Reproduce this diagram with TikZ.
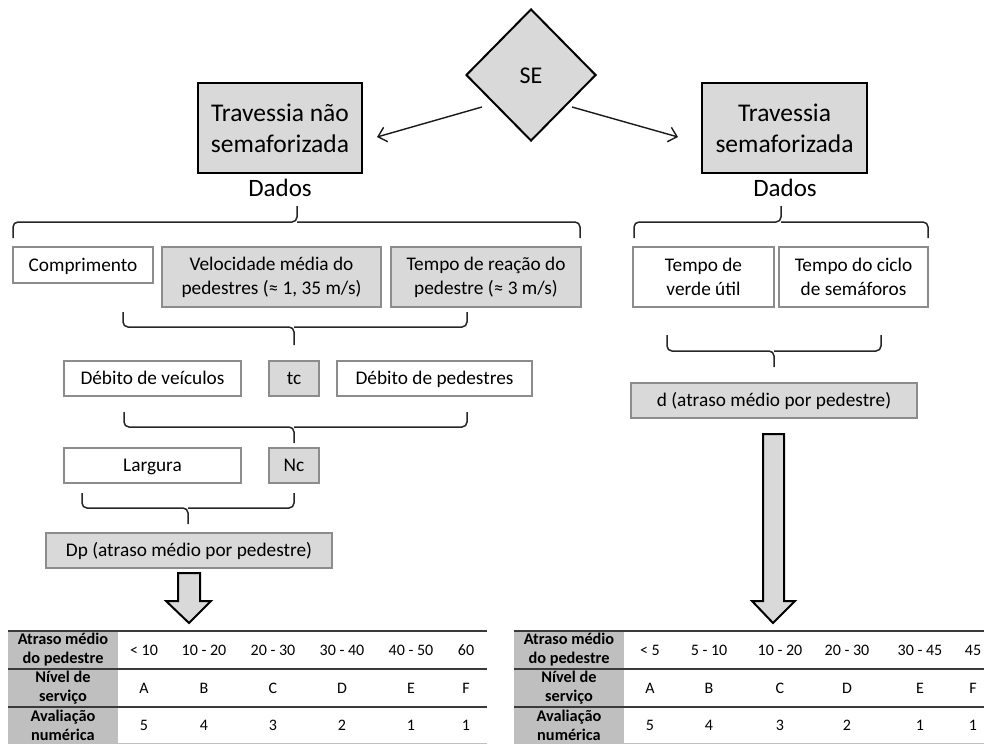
\documentclass[tikz,border=0pt]{standalone}
\usepackage{fontspec}
\setmainfont{Carlito}
\usetikzlibrary{shapes.geometric,arrows.meta}
\definecolor{boxgray}{HTML}{D9D9D9}
\definecolor{hdrgray}{HTML}{BFBFBF}
\definecolor{edgegray}{HTML}{8C8C8C}
\definecolor{rulegray}{HTML}{3A3A3A}

\begin{document}
\begin{tikzpicture}[x=1pt,y=-1pt,
  titlebox/.style={draw=black, line width=2.4pt, fill=boxgray, inner sep=0pt,
    align=center, font=\fontsize{25.5}{31}\selectfont},
  lbl/.style={inner sep=0pt, font=\fontsize{25}{30}\selectfont},
  databox/.style={draw=edgegray, line width=1.1pt, fill=white, inner sep=0pt,
    align=center, font=\fontsize{19.3}{24}\selectfont},
  grayfill/.style={databox, fill=boxgray},
  oneline/.style={text height=15pt, text depth=3pt},
  bracket/.style={draw=black!85, line width=1.5pt, rounded corners=5pt},
  link/.style={draw=black!90, line width=1.4pt, -{Straight Barb[length=8pt,width=15pt]}},
  bigarrow/.style={draw=black, line width=2pt, fill=boxgray, line join=miter},
  hdr/.style={inner sep=0pt, align=center, font=\bfseries\fontsize{16.3}{19}\selectfont},
  cell/.style={inner sep=0pt, text height=12pt, text depth=2pt,
    font=\fontsize{16}{19}\selectfont},
  tabrule/.style={draw=rulegray, line width=1.5pt},
]
\useasboundingbox (0,0) rectangle (984,744);

% decision and the two branches
\node (se) [diamond, draw=black, line width=2pt, fill=boxgray, inner sep=0pt,
  minimum width=130pt, minimum height=132pt, font=\fontsize{24}{29}\selectfont,
  text height=19pt, text depth=3pt]
  at (531,75) {SE};
\node (nsem) [titlebox, minimum width=164pt, minimum height=90pt] at (280,128)
  {Travessia não\\semaforizada};
\node (sem) [titlebox, minimum width=165pt, minimum height=90pt] at (784.5,128)
  {Travessia\\semaforizada};
\coordinate (se-l) at (482,107);
\coordinate (se-r) at (572,107);
\coordinate (nsem-in) at (377,137);
\coordinate (sem-in) at (678,137);
\draw[link] (se-l) -- (nsem-in);
\draw[link] (se-r) -- (sem-in);

\node (dadosL) [lbl] at (280,188) {Dados};
\node (dadosR) [lbl] at (785,188) {Dados};

% braces under "Dados"
\draw[bracket] (13,238) -- (13,222) -- (297,222) -- (297,206);
\draw[bracket] (580,238) -- (580,222) -- (297,222);
\draw[bracket] (634,238) -- (634,222) -- (781,222) -- (781,206);
\draw[bracket] (928,238) -- (928,222) -- (781,222);

% unsignalised crossing: inputs
\node (comp) [databox, oneline, minimum width=140pt, minimum height=36pt] at (83,265) {Comprimento};
\node (vel) [grayfill, minimum width=219pt, minimum height=60pt] at (271.5,277)
  {Velocidade média do\\pedestres (≈ 1, 35 m/s)};
\node (reac) [grayfill, minimum width=190pt, minimum height=60pt] at (486,277)
  {Tempo de reação do\\pedestre (≈ 3 m/s)};

\draw[bracket] (123,312) -- (123,327) -- (294,327) -- (294,345);
\draw[bracket] (467,312) -- (467,327) -- (294,327);

\node (dveic) [databox, oneline, minimum width=177pt, minimum height=35pt] at (152.5,378.5) {Débito de veículos};
\node (tc) [grayfill, oneline, minimum width=50pt, minimum height=35pt] at (294,378.5) {tc};
\node (dped) [databox, oneline, minimum width=195pt, minimum height=35pt] at (434.5,378.5) {Débito de pedestres};

\draw[bracket] (124,412) -- (124,427) -- (294,427) -- (294,443);
\draw[bracket] (467,412) -- (467,427) -- (294,427);

\node (larg) [databox, oneline, minimum width=177pt, minimum height=35pt] at (152.5,465.5) {Largura};
\node (nc) [grayfill, oneline, minimum width=50pt, minimum height=35pt] at (294,465.5) {Nc};

\draw[bracket] (82,493) -- (82,508) -- (188,508) -- (188,524);
\draw[bracket] (294,493) -- (294,508) -- (188,508);

\node (dp) [grayfill, oneline, minimum width=286pt, minimum height=35pt] at (189,550.5)
  {Dp (atraso médio por pedestre)};

% signalised crossing: inputs
\node (verde) [databox, minimum width=141pt, minimum height=60pt] at (703.5,277)
  {Tempo de\\verde útil};
\node (ciclo) [databox, minimum width=149pt, minimum height=60pt] at (853.5,277)
  {Tempo do ciclo\\de semáforos};

\draw[bracket] (667,335) -- (667,351) -- (774,351) -- (774,367);
\draw[bracket] (881,335) -- (881,351) -- (774,351);

\node (dR) [grayfill, oneline, minimum width=286pt, minimum height=35pt] at (774,400.5)
  {d (atraso médio por pedestre)};

% block arrows down to the tables
\draw[bigarrow] (178,573) -- (200,573) -- (200,601) -- (211,601) -- (189,623)
  -- (166,601) -- (178,601) -- cycle;
\draw[bigarrow] (763,434) -- (784,434) -- (784,601) -- (795,601) -- (773,623)
  -- (752,601) -- (763,601) -- cycle;

% level-of-service tables
\fill[hdrgray] (8,631) rectangle (118,744);
\fill[hdrgray] (514,631) rectangle (624,744);
\foreach \x/\xe in {8/487, 514/984}{
  \draw[tabrule] (\x,631) -- (\xe,631);
  \draw[tabrule] (\x,669) -- (\xe,669);
  \draw[tabrule] (\x,707) -- (\xe,707);
  \draw[draw=black!25, line width=1.2pt] (\x,743.4) -- (\xe,743.4);
}
\foreach \x in {63, 569}{
  \node[hdr] at (\x,650) {Atraso médio\\do pedestre};
  \node[hdr] at (\x,688) {Nível de\\serviço};
  \node[hdr] at (\x,725) {Avaliação\\numérica};
}
\foreach \x/\a/\b/\c in {144/{< 10}/A/5, 204/{10 - 20}/B/4, 273/{20 - 30}/C/3,
    342/{30 - 40}/D/2, 411/{40 - 50}/E/1, 466/60/F/1}{
  \node[cell] at (\x,650) {\a};
  \node[cell] at (\x,688) {\b};
  \node[cell] at (\x,725) {\c};
}
\foreach \x/\a/\b/\c in {650/{< 5}/A/5, 709/{5 - 10}/B/4, 780/{10 - 20}/C/3,
    847/{20 - 30}/D/2, 920/{30 - 45}/E/1, 973/45/F/1}{
  \node[cell] at (\x,650) {\a};
  \node[cell] at (\x,688) {\b};
  \node[cell] at (\x,725) {\c};
}
\end{tikzpicture}
\end{document}
